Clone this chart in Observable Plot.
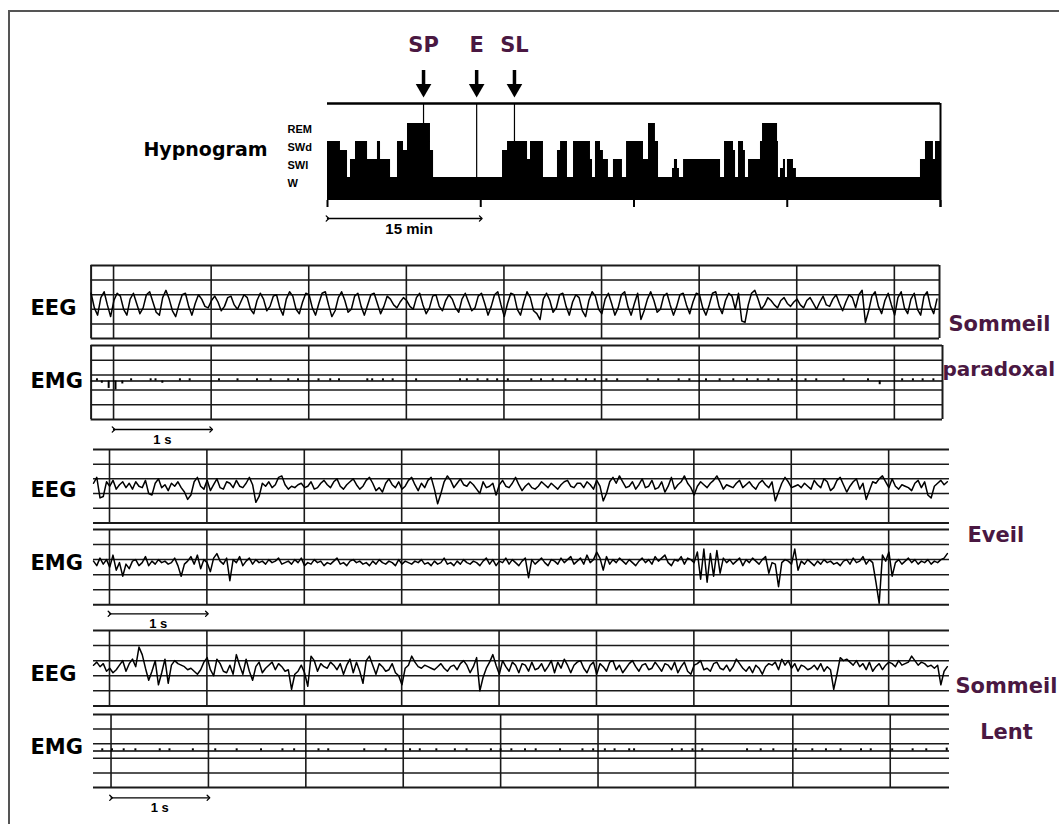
<!DOCTYPE html>
<html><head><meta charset="utf-8">
<script src="https://cdn.jsdelivr.net/npm/d3@7"></script>
<script src="https://cdn.jsdelivr.net/npm/@observablehq/plot@0.6"></script>
<style>
body{margin:0;background:#fff;}
#fig{position:relative;width:1059px;height:824px;overflow:hidden;background:#fff;}
#frame{position:absolute;left:8px;top:10px;width:1100px;height:900px;border-top:2px solid #555;border-left:2px solid #555;}
</style></head><body><div id="fig"><div id="frame"></div></div>
<script>
// ---------------- DATA ----------------
// Hypnogram: stage code (0 = W, 1 = SWl, 2 = SWd, 3 = REM) starting at each time (minutes)
const hypnoTime = [0,1.27,1.96,2.25,2.74,3.92,4.89,5.19,6.17,6.85,7.44,7.83,10.08,10.38,17.13,17.62,19.58,19.87,21.14,22.51,22.81,23.49,24.08,25.74,25.94,26.23,26.72,27.01,27.5,27.99,28.87,29.27,30.93,31.42,32.1,32.4,33.77,33.96,34.26,34.45,34.85,38.47,38.86,39.74,39.94,40.23,40.72,40.91,41.21,42.38,42.58,44.05,44.14,44.34,44.63,44.83,45.02,45.61,45.9,58.04,58.53,59.31,59.51,60];
const hypnoStage = [2,1.5,0,1,2,1,2,1,0,2,1.5,3,1.5,0,1.5,2,1,2,0,1.5,2,0,2,1,0,2,1.5,1,0,1,0,2,1,3,2,0,0.5,1,0.5,0,1,0,2,1.5,0,2,1.5,0,1,2,3,2,0,0.5,1,0,1,0.5,0,1,2,1,2,2];
const stageNames = ["W","SWl","SWd","REM"];
const stageLevels = [0,1,2,3];
const hypnoTicks = [0,15,30,45,60];
const eventLabel = ["SP","E","SL"];
const eventTime = [9.4,14.6,18.3];
const eventStage = [3,0,2];

const sampleRate = 30; // samples per second of drawn traces

// Sommeil paradoxal
const spEEG = [6,-4,-9,3,7,-2,-10,1,6,4,-5,-9,2,6,-1,-8,-4,5,7,0,-7,-9,3,8,2,-6,-10,-2,5,6,
-3,-9,-1,5,2,-3,-4,1,4,0,-6,-3,3,4,-2,-5,0,5,3,-5,-8,1,6,2,-6,-3,4,5,-4,-9,
2,7,4,-5,-8,0,6,5,-4,-9,-1,6,7,-2,-10,-6,3,7,1,-7,-5,4,6,-3,-9,-2,5,6,-1,-8,
-3,4,2,-2,-4,0,3,1,-3,-5,3,6,-2,-8,-4,4,5,-3,-6,1,5,2,-4,-7,2,6,0,-6,-4,4,
6,-1,-9,-3,5,7,-2,-10,-1,6,5,-5,-9,0,7,3,-6,-8,-12,2,6,1,-7,-4,5,6,-3,-9,0,5,
3,-6,-10,1,7,4,-5,-8,2,6,-1,-9,-4,5,7,-3,-9,-1,6,-12,-6,2,7,1,-7,-5,4,6,-2,-9,
-3,5,6,-2,-8,0,6,5,-4,-9,-2,6,7,-3,-8,1,6,4,-5,6,-13,-14,-2,6,8,2,-5,-2,3,1,
-2,-4,1,3,-1,-3,0,2,-2,-4,1,3,-1,-5,0,4,-2,-3,2,5,-1,-6,0,5,3,-4,5,8,-14,-6,
4,7,-3,-8,1,6,-2,-9,3,7,-4,-8,2,6,-5,-9,4,7,-3,-8,2];
const spEMGBlipT = [0.06,0.11,0.18,0.25,0.32,0.41,0.61,0.66,0.73,0.91,1.01,1.31,1.5,1.7,1.84,2.02,2.12,2.33,2.45,2.54,2.83,2.88,2.99,3.09,3.33,3.78,3.85,3.96,4.06,4.16,4.27,4.51,4.61,4.73,4.86,4.98,5.07,5.16,5.28,5.39,5.7,5.81,6.02,6.13,6.3,6.44,6.58,6.72,6.83,6.94,7.04,7.18,7.32,7.43,7.71,7.96,8.08,8.31,8.42,8.52,8.63];
const spEMGBlipV = [1.5,-1.5,-5,-6,-2,1.5,1.5,1.5,-1.5,1.5,1.5,1.5,1.5,1.5,1.5,1.5,1.5,1.5,1.5,1.5,1.5,1.5,1.5,1.5,1.5,1.5,1.5,1.5,1.5,1.5,1.5,1.5,1.5,1.5,1.5,1.5,1.5,1.5,1.5,1.5,1.5,1.5,1.5,1.5,1.5,1.5,1.5,1.5,1.5,1.5,1.5,1.5,1.5,1.5,1.5,1.5,-2.5,1.5,1.5,1.5,1.5];
const spEMGBase = 1;

// Eveil
const wEEG = [2,6,-8,-7,3,0,4,-2,1,3,-1,2,-2,3,0,-1,4,-5,-6,2,5,-1,1,-3,2,0,3,-1,-4,-9,
-6,3,6,0,-2,4,-3,1,5,-1,-2,3,2,-1,4,0,-1,2,6,1,-11,-7,2,0,3,-1,1,6,7,1,
-2,0,-1,1,2,-1,0,3,-2,-1,2,4,1,-1,3,5,0,-2,1,3,5,1,-2,0,4,6,2,-3,-1,-4,
2,5,1,-1,3,-2,0,4,6,1,-3,2,-1,4,6,-2,-12,-5,3,7,4,-1,2,5,1,0,3,1,-2,-5,
3,-1,0,2,-6,1,4,0,-1,2,6,1,-3,0,2,-1,-2,0,3,1,-1,2,0,-2,1,3,4,0,-1,2,
2,-1,3,1,-2,4,0,-10,-5,3,6,2,7,3,-1,0,3,-2,1,5,-1,0,4,-2,-1,3,-4,0,6,-2,
1,3,7,2,-1,-6,0,3,1,-1,2,4,7,3,-2,1,0,-1,2,4,-1,1,3,0,-2,2,4,1,-1,3,
-10,-4,2,6,3,-1,0,1,-1,2,0,-2,4,1,-1,5,3,-3,-1,4,6,1,-4,0,3,5,-2,2,-9,-3,
3,2,5,7,3,-1,5,0,-2,1,0,-1,-3,2,4,-1,3,-6,-8,0,2,4,1,3];
const wEMG = [4,1,6,2,5,0,8,-2,3,-6,2,-1,4,5,1,3,7,1,4,2,5,3,4,2,3,6,1,-6,2,4,
7,2,8,-1,5,3,-3,6,9,4,2,6,-9,5,3,7,1,4,6,2,5,3,4,2,5,3,4,6,2,3,
4,2,5,3,6,1,3,2,5,3,4,1,3,2,4,6,2,3,1,4,5,3,4,2,3,1,4,2,5,3,
2,4,3,1,5,2,4,3,2,4,3,5,2,3,1,4,2,3,6,2,3,1,4,2,5,3,2,4,3,1,
4,6,2,5,1,4,3,6,2,5,3,1,4,6,-7,5,2,4,6,3,1,5,4,2,6,3,5,7,2,4,
6,2,8,3,5,10,6,-2,7,2,5,3,6,4,2,5,3,1,4,6,3,5,2,7,4,6,8,3,1,5,
4,7,2,6,5,3,10,-8,12,-10,9,-6,11,-4,6,3,5,2,4,6,1,5,3,6,4,2,5,7,-4,3,
2,-13,3,5,4,2,12,-2,4,2,5,3,1,4,2,5,3,4,2,3,1,4,5,2,6,3,4,7,2,5,
3,-10,-24,8,4,10,-6,3,5,2,4,6,3,5,2,4,3,5,2,4,3,5,6,9];

// Sommeil lent
const slEEG = [2,4,1,3,-2,0,-3,-1,2,5,-2,3,6,1,14,9,0,-8,-2,5,-11,-3,6,-10,2,5,3,2,1,-1,
0,-2,-4,-1,4,7,-1,-5,6,3,-2,-3,2,-4,9,2,-4,6,-2,-8,1,4,-3,0,2,4,-1,3,1,-2,
-1,-14,-4,-2,2,-3,-12,8,5,-2,3,1,0,4,2,-1,3,-4,2,6,-3,4,-2,-10,5,8,2,-4,3,1,
-2,-1,3,-3,-5,-11,0,2,8,4,1,0,2,1,0,-1,1,3,0,-2,1,2,-1,3,5,2,-3,1,7,-15,
-6,0,4,9,2,-4,5,1,-2,4,2,-3,3,2,-2,4,-1,0,3,-2,1,5,-3,4,0,6,2,-3,2,4,
5,0,-3,2,4,-4,3,1,-2,4,5,-1,2,-3,0,3,5,1,-2,2,3,-1,0,4,1,-2,3,2,-1,4,
-3,1,4,-2,-4,2,3,5,-1,0,-2,3,4,0,-1,2,-2,1,6,3,0,-2,1,-3,2,0,-4,1,3,2,
4,-1,6,2,5,0,3,-2,2,1,-1,0,2,-1,3,-2,1,-1,-14,-4,7,5,6,4,2,5,1,3,-1,4,
-2,1,3,-1,2,4,3,1,5,2,3,4,8,5,2,4,3,1,2,0,2,-11,-2,1];
const slEMGBlipT = [0.09,0.19,0.31,0.43,0.68,0.78,1.02,1.25,1.47,1.72,1.94,2.06,2.31,2.41,2.78,3.0,3.25,3.35,3.52,3.71,3.83,4.08,4.18,4.29,4.43,4.54,4.79,5.02,5.13,5.25,5.35,5.5,5.55,5.94,6.04,6.15,6.25,6.71,6.85,6.98,7.21,7.38,7.52,7.67,7.88,7.98,8.2,8.41,8.55,8.76];
const slEMGBlipV = [1.5,1.5,1.5,1.5,1.5,1.5,1.5,1.5,1.5,1.5,1.5,1.5,1.5,1.5,1.5,1.5,1.5,1.5,1.5,1.5,1.5,1.5,1.5,1.5,1.5,1.5,1.5,1.5,1.5,1.5,1.5,1.5,1.5,1.5,1.5,1.5,1.5,1.5,1.5,1.5,1.5,1.5,1.5,1.5,1.5,1.5,1.5,1.5,1.5,2];
const slEMGBase = 0;

const stateLabels = ["Sommeil","paradoxal","Eveil","Sommeil","Lent"];

// ---------------- DRAWING ----------------
const W = 1059;
const FONT = "DejaVu Sans, sans-serif";
const FONT2 = "Liberation Sans, Arial, sans-serif";
const PURPLE = "#4a1842";
const INK = "#1a1a1a";
const fig = document.getElementById("fig");
const STYLE = {background: "transparent", overflow: "visible"};

function place(svg, top) {
  svg.style.position = "absolute";
  svg.style.left = "0px";
  svg.style.top = top + "px";
  fig.appendChild(svg);
}

// Hypnogram
(function () {
  const PX = 18;                 // px per stage step
  const yAt = px => (177 - px) / PX;   // layout helper (W level at row 177)
  const yBase = yAt(200), yTop = yAt(103);
  const hyp = hypnoTime.map((t, i) => ({t, v: hypnoStage[i]}));
  const events = eventLabel.map((label, i) => ({label, t: eventTime[i], v: eventStage[i]}));
  const stages = stageNames.map((name, i) => ({name, v: stageLevels[i]}));
  const svg = Plot.plot({
    width: W, height: 240,
    marginLeft: 327, marginRight: W - 940, marginTop: 103, marginBottom: 40,
    x: {domain: [0, 60], axis: null},
    y: {domain: [yBase, yTop], axis: null},
    style: STYLE,
    marks: [
      Plot.areaY(hyp, {x: "t", y1: yBase, y2: "v", curve: "step-after", fill: "black"}),
      Plot.ruleY([yTop], {stroke: "black", strokeWidth: 2.5}),
      Plot.ruleX([60], {y1: yAt(207), y2: yTop, stroke: "black", strokeWidth: 2}),
      Plot.ruleX(hypnoTicks, {y1: yBase, y2: yAt(207), stroke: "black", strokeWidth: 2}),
      Plot.ruleX(events, {x: "t", y1: yTop, y2: "v", stroke: "black", strokeWidth: 1.2}),
      Plot.ruleX(events, {x: "t", y1: yAt(70), y2: yAt(86), stroke: "black", strokeWidth: 3.5}),
      Plot.dot(events, {x: "t", y: yAt(88), symbol: "triangle", r: 5.8, fill: "black", rotate: 180}),
      Plot.text(events, {x: "t", y: yAt(45), text: "label", fill: PURPLE, fontSize: 21, fontWeight: "bold", fontFamily: FONT}),
      Plot.text(stages, {x: 0, y: "v", text: "name", dx: -40, dy: 6, textAnchor: "start", fontSize: 11, fontWeight: "bold", fontFamily: FONT2, fill: "black"}),
      Plot.text(["Hypnogram"], {x: 0, y: yAt(149), text: d => d, dx: -60, textAnchor: "end", fontSize: 19, fontWeight: "bold", fontFamily: FONT, fill: "black"}),
      Plot.line([{t: 0}, {t: 15}], {x: "t", y: yAt(218), stroke: "black", strokeWidth: 1.3, marker: "arrow"}),
      Plot.text(["15 min"], {x: 7.5, y: yAt(228.5), text: d => d, dx: 5, fontSize: 15, fontWeight: "bold", fontFamily: FONT2, fill: "black"})
    ]
  });
  place(svg, 0);
})();

// Trace boxes
function box(o) {
  const {left, right, top, bottom, pps, grid0, borders, label, labelDy} = o;
  const T = (right - left) / pps;
  const mt = 40, mb = 40;
  const ppu = (bottom - top) / 50;               // px per unit
  const vAt = px => 25 - (px - top) / ppu;       // layout helper
  const gridT = d3.range(9).map(k => grid0 + k);
  const marks = [
    Plot.ruleY([-15, -5, 5, 15], {stroke: INK, strokeWidth: 1.5}),
    Plot.ruleY([-25, 25], {stroke: INK, strokeWidth: 2}),
    Plot.ruleX(gridT, {y1: -25, y2: 25, stroke: INK, strokeWidth: 1.6})
  ];
  if (borders) marks.push(Plot.ruleX([0, T], {y1: -25, y2: 25, stroke: INK, strokeWidth: 2}));
  if (o.values) {
    const pts = o.values.map((v, i) => ({t: i / sampleRate, v}));
    marks.push(Plot.line(pts, {x: "t", y: "v", stroke: "black", strokeWidth: 1.5}));
  }
  if (o.blipT) {
    const b = o.blipT.map((t, i) => ({t, a: o.base + o.blipV[i]}));
    marks.push(Plot.ruleY([o.base], {stroke: "black", strokeWidth: 1.3}));
    marks.push(Plot.ruleX(b, {x: "t", y1: o.base, y2: "a", stroke: "black", strokeWidth: 2}));
  }
  marks.push(Plot.text([label], {frameAnchor: "left", text: d => d, dx: 30 - left, dy: labelDy, textAnchor: "start", fontSize: 21, fontWeight: "bold", fontFamily: FONT, fill: "black"}));
  if (o.bar) {
    marks.push(Plot.line([{t: grid0}, {t: grid0 + 1}], {x: "t", y: vAt(o.bar), stroke: "black", strokeWidth: 1.3, marker: "arrow"}));
    marks.push(Plot.text(["1 s"], {x: grid0 + 0.5, y: vAt(o.bar + 10.5), text: d => d, fontSize: 13, fontWeight: "bold", fontFamily: FONT2, fill: "black"}));
  }
  (o.state || []).forEach(s => {
    marks.push(Plot.text([s.text], {frameAnchor: s.anchor, text: d => d, dx: s.dx, dy: s.dy, textAnchor: s.ta || "start", fontSize: s.size || 21, fontWeight: "bold", fontFamily: FONT, fill: PURPLE}));
  });
  const svg = Plot.plot({
    width: W, height: bottom - top + mt + mb,
    marginLeft: left, marginRight: W - right, marginTop: mt, marginBottom: mb,
    x: {domain: [0, T], axis: null},
    y: {domain: [-25, 25], axis: null},
    style: STYLE,
    marks
  });
  place(svg, top - mt);
}

// Panel 1 : Sommeil paradoxal
box({left: 90.6, right: 939, top: 265, bottom: 338, pps: 97.6, grid0: 0.23, borders: true,
     values: spEEG, label: "EEG", labelDy: 6,
     state: [{text: stateLabels[0], anchor: "bottom-right", dx: 9, dy: -7.7}]});
box({left: 90.6, right: 942, top: 345, bottom: 419, pps: 97.6, grid0: 0.23, borders: true,
     blipT: spEMGBlipT, blipV: spEMGBlipV, base: spEMGBase, label: "EMG", labelDy: -1, bar: 429,
     state: [{text: stateLabels[1], anchor: "top-right", dx: 0, dy: 16.3, size: 20}]});

// Panel 2 : Eveil
box({left: 93, right: 949, top: 448.6, bottom: 522, pps: 97.4, grid0: 0.164, borders: false,
     values: wEEG, label: "EEG", labelDy: 4.5});
box({left: 93, right: 949, top: 528.7, bottom: 604, pps: 97.4, grid0: 0.164, borders: false,
     values: wEMG, label: "EMG", labelDy: -3.5, bar: 613,
     state: [{text: stateLabels[2], anchor: "top-right", dx: 18, dy: -2.4}]});

// Panel 3 : Sommeil lent
box({left: 93, right: 949, top: 630.2, bottom: 705.6, pps: 97.4, grid0: 0.164, borders: false,
     values: slEEG, label: "EEG", labelDy: 6,
     state: [{text: stateLabels[3], anchor: "bottom-right", dx: 6, dy: -13.3}]});
box({left: 93, right: 949, top: 713.7, bottom: 786.7, pps: 97.4, grid0: 0.18, borders: false,
     blipT: slEMGBlipT, blipV: slEMGBlipV, base: slEMGBase, label: "EMG", labelDy: -4, bar: 797,
     state: [{text: stateLabels[4], anchor: "top-right", dx: 57, dy: 9.6, ta: "middle"}]});
</script>
</body></html>
